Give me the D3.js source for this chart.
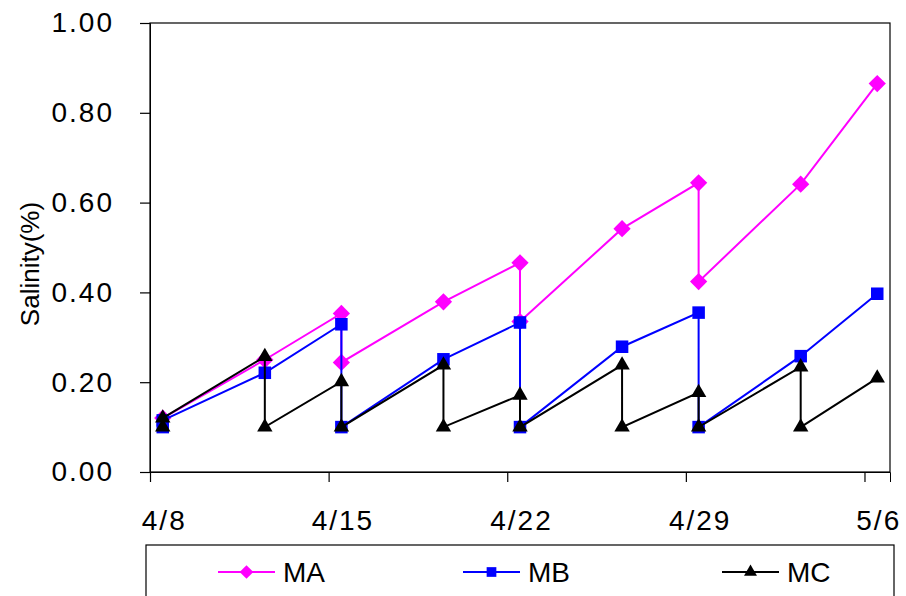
<!DOCTYPE html>
<html>
<head>
<meta charset="utf-8">
<script src="https://cdn.jsdelivr.net/npm/d3@7/dist/d3.min.js"></script>
<style>
  html, body { margin: 0; padding: 0; background: #fff; }
  svg { display: block; }
  text { font-family: "Liberation Sans", Arial, sans-serif; fill: #000; }
</style>
</head>
<body>
<svg id="chart" width="906" height="596"></svg>
<script>
// ---- data ----
const xTickLabels = ["4/8", "4/15", "4/22", "4/29", "5/6"];
const yTicks = [0, 0.2, 0.4, 0.6, 0.8, 1.0];

const maDates  = ["4/8","4/12","4/15","4/15","4/19","4/22","4/22","4/26","4/29","4/29","5/3","5/6"];
const maValues = [0.12, 0.25, 0.353, 0.244, 0.379, 0.466, 0.335, 0.542, 0.644, 0.424, 0.641, 0.865];

const mbDates  = ["4/8","4/8","4/12","4/15","4/15","4/19","4/22","4/22","4/26","4/29","4/29","5/3","5/6"];
const mbValues = [0.10, 0.115, 0.221, 0.329, 0.10, 0.251, 0.333, 0.10, 0.279, 0.355, 0.10, 0.258, 0.397];

const mcDates  = ["4/8","4/8","4/12","4/12","4/15","4/15","4/19","4/19","4/22","4/22","4/26","4/26","4/29","4/29","5/3","5/3","5/6"];
const mcValues = [0.10, 0.12, 0.257, 0.10, 0.201, 0.10, 0.238, 0.10, 0.171, 0.10, 0.238, 0.10, 0.177, 0.10, 0.234, 0.10, 0.209];

const seriesNames = ["MA", "MB", "MC"];
const seriesColors = ["#ff00ff", "#0000ff", "#000000"];
const seriesSymbols = [d3.symbolDiamond2, d3.symbolSquare2, d3.symbolTriangle2];

// ---- helpers ----
const YEAR = 2008;
function parseMD(s) { const [m, d] = s.split("/").map(Number); return new Date(YEAR, m - 1, d); }
function mid(s) { const t = parseMD(s); return new Date(t.getTime() + 12 * 3600 * 1000); }

const svg = d3.select("#chart");
const L = 150, R = 890, T = 23, B = 472;

const x = d3.scaleTime().domain([parseMD("4/8"), parseMD("5/7")]).range([L, R]);
const y = d3.scaleLinear().domain([0, 1]).range([B, T]);

// frame
svg.append("rect").attr("x", L).attr("y", T).attr("width", R - L).attr("height", B - T)
  .attr("fill", "none").attr("stroke", "#000").attr("stroke-width", 1.2);

// y axis
const yAxis = svg.append("g").attr("transform", `translate(${L},0)`)
  .call(d3.axisLeft(y).tickValues(yTicks).tickFormat(d3.format(".2f")).tickSize(10).tickPadding(26));
yAxis.select(".domain").attr("stroke", "#000");
yAxis.selectAll(".tick line").attr("stroke", "#000").attr("stroke-width", 1.2);
yAxis.selectAll(".tick text").attr("font-size", 28).style("letter-spacing", "2px")
  .attr("font-family", "Liberation Sans, Arial, sans-serif").attr("fill", "#000");

// x axis
const halfDay = x(mid("4/8")) - x(parseMD("4/8"));
const xAxis = svg.append("g").attr("transform", `translate(0,${B})`)
  .call(d3.axisBottom(x).tickValues(xTickLabels.map(parseMD))
    .tickFormat((d, i) => xTickLabels[i]).tickSize(10));
xAxis.select(".domain").attr("stroke", "#000");
xAxis.selectAll(".tick line").attr("stroke", "#000").attr("stroke-width", 1.2);
xAxis.selectAll(".tick text").attr("font-size", 28).style("letter-spacing", "2px")
  .attr("x", halfDay + 1).attr("y", 58).attr("dy", 0)
  .attr("font-family", "Liberation Sans, Arial, sans-serif").attr("fill", "#000");

// y title
svg.append("text").attr("transform", "translate(39,264) rotate(-90)")
  .attr("text-anchor", "middle").attr("font-size", 26).text("Salinity(%)");

// series
const allDates = [maDates, mbDates, mcDates];
const allValues = [maValues, mbValues, mcValues];
const line = d3.line().x(d => x(mid(d[0]))).y(d => y(d[1]));
const symSizes = [190, 200, 170];

allDates.forEach((dates, si) => {
  const pts = dates.map((d, i) => [d, allValues[si][i]]);
  const g = svg.append("g");
  g.append("path").datum(pts).attr("d", line).attr("fill", "none")
    .attr("stroke", seriesColors[si]).attr("stroke-width", 2);
  g.selectAll("path.m").data(pts).join("path").attr("class", "m")
    .attr("transform", d => `translate(${x(mid(d[0]))},${y(d[1])})`)
    .attr("d", d3.symbol(seriesSymbols[si], symSizes[si]))
    .attr("fill", seriesColors[si]);
});

// legend
svg.append("rect").attr("x", 146).attr("y", 545).attr("width", 748).attr("height", 80)
  .attr("fill", "none").attr("stroke", "#000").attr("stroke-width", 1.2);
const legendX = [218, 463, 722];
seriesNames.forEach((name, i) => {
  const g = svg.append("g").attr("transform", `translate(${legendX[i]},572)`);
  g.append("line").attr("x1", 0).attr("x2", 57).attr("y1", 0).attr("y2", 0)
    .attr("stroke", seriesColors[i]).attr("stroke-width", 2);
  g.append("path").attr("transform", "translate(28.5,0)")
    .attr("d", d3.symbol(seriesSymbols[i], 120)).attr("fill", seriesColors[i]);
  g.append("text").attr("x", 65).attr("y", 0).attr("dy", "0.36em")
    .attr("font-size", 28).text(name);
});
</script>
</body>
</html>
